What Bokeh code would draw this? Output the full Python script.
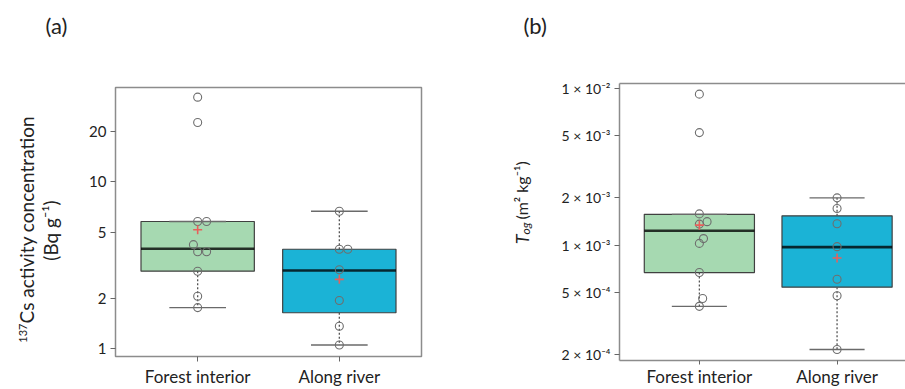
import math
from bokeh.plotting import figure
from bokeh.models import ColumnDataSource, Range1d, FixedTicker, LinearAxis
from bokeh.core.properties import value
from bokeh.layouts import row
from bokeh.embed import file_html
from bokeh.resources import INLINE

# ---------------- data ----------------
groups = ["Forest interior", "Along river"]
group_pos = [1, 2]

# (a) 137Cs activity concentration (Bq g-1)
cs_forest = [32.2, 22.7, 5.78, 5.78, 4.20, 3.81, 3.81, 2.91, 2.06, 1.76]
cs_forest_jitter = [0, 0, 0, 0.063, -0.03, 0, 0.063, 0, 0, 0]
cs_river = [6.66, 3.94, 3.94, 2.97, 1.94, 1.36, 1.05]
cs_river_jitter = [0, 0, 0.06, 0, 0, 0, 0]
cs_q1 = [2.91, 1.64]
cs_median = [3.97, 2.94]
cs_q3 = [5.78, 3.94]
cs_whisker_low = [1.76, 1.05]
cs_whisker_high = [5.78, 6.66]
cs_mean = [5.16, 2.60]
cs_ticks = [1, 2, 5, 10, 20]
cs_tick_labels = ["1", "2", "5", "10", "20"]

# (b) T_og (m2 kg-1)
tog_forest = [9.16e-3, 5.21e-3, 1.58e-3, 1.41e-3, 1.36e-3, 1.10e-3, 1.025e-3, 6.68e-4, 4.57e-4, 4.07e-4]
tog_forest_jitter = [0, 0, 0, 0.056, 0, 0.03, 0, 0, 0.024, 0]
tog_river = [2.0e-3, 1.71e-3, 1.367e-3, 9.77e-4, 6.06e-4, 4.75e-4, 2.16e-4]
tog_river_jitter = [0, 0, 0, 0, 0, 0, 0]
tog_q1 = [6.68e-4, 5.39e-4]
tog_median = [1.234e-3, 9.7e-4]
tog_q3 = [1.57e-3, 1.536e-3]
tog_whisker_low = [4.07e-4, 2.16e-4]
tog_whisker_high = [1.57e-3, 2.0e-3]
tog_mean = [1.34e-3, 8.27e-4]
tog_ticks = [1e-2, 5e-3, 2e-3, 1e-3, 5e-4, 2e-4]
tog_tick_labels = ["1 × 10⁻²", "5 × 10⁻³", "2 × 10⁻³", "1 × 10⁻³", "5 × 10⁻⁴", "2 × 10⁻⁴"]

# ---------------- style ----------------
FONT = "Lato"
BOX_COLORS = ["#a6d9b1", "#1bb3d6"]
HALF_BOX = 0.4
HALF_CAP = 0.2
FRAME_COLOR = "#8c8c8c"
TEXT_COLOR = "#222222"
H = 389


def no_align(p):
    if "frame_align" in p.properties():
        p.frame_align = False


def draw_boxes(p, q1, med, q3, wl, wh, mean, pts, jit):
    src = ColumnDataSource(dict(
        x=group_pos, left=[g - HALF_BOX for g in group_pos], right=[g + HALF_BOX for g in group_pos],
        capl=[g - HALF_CAP for g in group_pos], capr=[g + HALF_CAP for g in group_pos],
        q1=q1, med=med, q3=q3, wl=wl, wh=wh, mean=mean, color=BOX_COLORS))
    p.quad(left="left", right="right", bottom="q1", top="q3", fill_color="color",
           line_color="#404040", line_width=1.2, source=src)
    p.segment(x0="x", y0="q3", x1="x", y1="wh", line_color="#555555", line_width=1.3,
              line_dash="2 2", source=src)
    p.segment(x0="x", y0="q1", x1="x", y1="wl", line_color="#555555", line_width=1.3,
              line_dash="2 2", source=src)
    p.segment(x0="capl", y0="wh", x1="capr", y1="wh", line_color="#6a6a6a", line_width=1.3, source=src)
    p.segment(x0="capl", y0="wl", x1="capr", y1="wl", line_color="#6a6a6a", line_width=1.3, source=src)
    p.segment(x0="left", y0="med", x1="right", y1="med", line_color="#000000", line_alpha=0.78,
              line_width=2.6, source=src)
    for gi, (vals, jj) in enumerate(zip(pts, jit)):
        ps = ColumnDataSource(dict(x=[group_pos[gi] + j for j in jj], y=vals))
        p.scatter(x="x", y="y", marker="circle", size=8, fill_color=None,
                  line_color="#6e6e6e", line_width=1.1, source=ps)
    p.scatter(x="x", y="mean", marker="cross", size=9, line_color="#e8605c",
              line_width=1.6, source=src)


def style_axes(p, ticks, labels, size_tick, standoff_x, tick_out):
    xa = p.below[0]
    ya = p.left[0]
    xa.ticker = FixedTicker(ticks=group_pos)
    xa.major_label_overrides = {g: n for g, n in zip(group_pos, groups)}
    ya.ticker = FixedTicker(ticks=ticks)
    ya.major_label_overrides = {t: l for t, l in zip(ticks, labels)}
    for ax in (xa, ya):
        ax.major_tick_in = 0
        ax.major_tick_out = 5
        ax.minor_tick_line_color = None
        ax.major_tick_line_color = "#666666"
        ax.major_label_text_font = FONT
        ax.major_label_text_color = TEXT_COLOR
    xa.major_tick_out = tick_out
    xa.major_label_text_font_size = "17px"
    ya.major_label_text_font_size = size_tick
    xa.major_label_standoff = standoff_x
    ya.major_label_standoff = 4
    p.xgrid.grid_line_color = None
    p.ygrid.grid_line_color = None


def label_fig(width):
    f = figure(width=width, height=H, x_range=Range1d(0, width), y_range=Range1d(0, H),
               min_border=0, x_axis_location=None, y_axis_location=None, title=None,
               output_backend="svg", toolbar_location=None)
    f.outline_line_color = None
    f.grid.visible = False
    no_align(f)
    return f


def add_text(f, text, x, y, size, angle=0.0, align="left", baseline="alphabetic", style="normal"):
    f.text(x=[x], y=[H - y], text=[text], angle=angle, text_font=value(FONT),
           text_font_size=f"{size}px", text_font_style=style, text_align=align,
           text_baseline=baseline, text_color=TEXT_COLOR)


half_pi = math.pi / 2

# ---------------- panel (a) ----------------
la = label_fig(75)
add_text(la, "(a)", 45, 25, 22, baseline="middle")
add_text(la, "137", 22, 323, 11, angle=half_pi, align="right")
add_text(la, "Cs activity concentration", 26, 323, 19, angle=half_pi)
add_text(la, "(Bq g⁻¹)", 50, 230, 19, angle=half_pi, align="center")

pa = figure(width=375, height=H, y_axis_type="log", output_backend="svg", toolbar_location=None,
            x_range=Range1d(0.42, 2.58), y_range=Range1d(0.896, 36.8),
            min_border_left=40, min_border_right=29, min_border_top=87, min_border_bottom=31)
no_align(pa)
pa.outline_line_color = FRAME_COLOR
pa.outline_line_width = 1.5
pa.xaxis.axis_line_color = None
pa.yaxis.axis_line_color = None
style_axes(pa, cs_ticks, cs_tick_labels, "15px", 4, 5)
draw_boxes(pa, cs_q1, cs_median, cs_q3, cs_whisker_low, cs_whisker_high, cs_mean,
           [cs_forest, cs_river], [cs_forest_jitter, cs_river_jitter])

# ---------------- panel (b) ----------------
lb = label_fig(102)
lb_x0 = 450
add_text(lb, "(b)", 523 - lb_x0, 25, 22, baseline="middle")
add_text(lb, "T", 521 - lb_x0, 234, 18, angle=half_pi, align="right", style="italic")
add_text(lb, "og", 525 - lb_x0, 222, 12, angle=half_pi, align="right", style="italic")
add_text(lb, "(m² kg⁻¹)", 521 - lb_x0, 219, 16, angle=half_pi)

pb = figure(width=353, height=H, y_axis_type="log", output_backend="svg", toolbar_location=None,
            x_range=Range1d(0.42, 2.497), y_range=Range1d(1.838e-4, 1.071e-2),
            min_border_left=67, min_border_right=0, min_border_top=83, min_border_bottom=27)
no_align(pb)
pb.outline_line_color = None
pb.xaxis.axis_line_color = FRAME_COLOR
pb.yaxis.axis_line_color = FRAME_COLOR
pb.xaxis.axis_line_width = 1.5
pb.yaxis.axis_line_width = 1.5
style_axes(pb, tog_ticks, tog_tick_labels, "14px", 1, 4)
top_axis = LinearAxis(ticker=FixedTicker(ticks=[]), major_label_text_font_size="0px",
                      major_label_standoff=0, major_tick_out=0, major_tick_in=0,
                      axis_line_color=FRAME_COLOR, axis_line_width=1.5,
                      major_tick_line_color=None, minor_tick_line_color=None)
pb.add_layout(top_axis, "above")
draw_boxes(pb, tog_q1, tog_median, tog_q3, tog_whisker_low, tog_whisker_high, tog_mean,
           [tog_forest, tog_river], [tog_forest_jitter, tog_river_jitter])

layout = row(la, pa, lb, pb)
open("out.html", "w").write(file_html(layout, INLINE))
